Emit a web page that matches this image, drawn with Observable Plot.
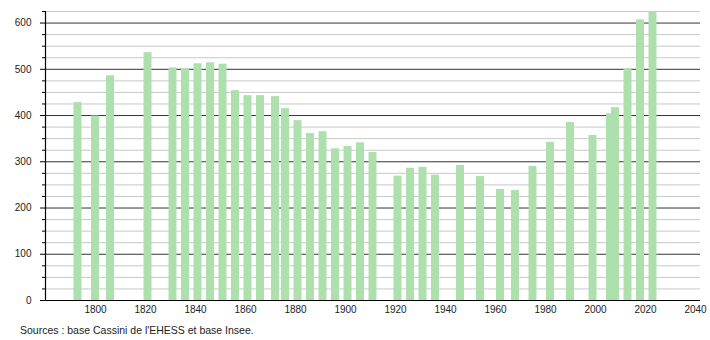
<!DOCTYPE html>
<html>
<head>
<meta charset="utf-8">
<script src="https://cdn.jsdelivr.net/npm/d3@7"></script>
<script src="https://cdn.jsdelivr.net/npm/@observablehq/plot@0.6"></script>
<style>
  body { margin: 0; background: #fff; font-family: "Liberation Sans", Arial, sans-serif; }
  #chart svg { display: block; }
  #caption { font-size: 10.5px; color: #222; margin: 4px 0 0 20px; }
</style>
</head>
<body>
<div id="chart"></div>
<div id="caption">Sources : base Cassini de l'EHESS et base Insee.</div>
<script>
const years = [1793, 1800, 1806, 1821, 1831, 1836, 1841, 1846, 1851, 1856, 1861, 1866, 1872, 1876, 1881, 1886, 1891, 1896, 1901, 1906, 1911, 1921, 1926, 1931, 1936, 1946, 1954, 1962, 1968, 1975, 1982, 1990, 1999, 2006, 2008, 2013, 2018, 2023];
const population = [428, 399, 486, 536, 503, 501, 512, 514, 511, 454, 443, 443, 441, 415, 389, 361, 365, 328, 333, 341, 320, 269, 286, 288, 271, 292, 268, 240, 238, 290, 342, 385, 357, 404, 417, 501, 607, 630];
const xTicks = [1800, 1820, 1840, 1860, 1880, 1900, 1920, 1940, 1960, 1980, 2000, 2020, 2040];
const yMajor = [0, 100, 200, 300, 400, 500, 600];
const yMinor = [25, 50, 75, 125, 150, 175, 225, 250, 275, 325, 350, 375, 425, 450, 475, 525, 550, 575, 625];

const data = years.map((y, i) => ({year: y, pop: population[i]}));

const chart = Plot.plot({
  width: 710,
  height: 320,
  marginTop: 11,
  marginBottom: 20,
  marginLeft: 45,
  marginRight: 10,
  style: {fontFamily: "Liberation Sans, Arial, sans-serif", fontSize: "10px", color: "#222", background: "#fff"},
  x: {domain: [1780, 2042], axis: null, label: null},
  y: {domain: [0, 625], axis: null, label: null},
  marks: [
    Plot.gridY(yMinor, {stroke: "#c8c8c8", strokeOpacity: 1}),
    Plot.gridY(yMajor.filter(d => d > 0), {stroke: "#333", strokeOpacity: 1}),
    Plot.rectY(data, {x1: d => d.year - 1.6, x2: d => d.year + 1.6, y: "pop", fill: "#aee0ae", clip: true}),
    Plot.axisY(yMinor, {tickSize: 3, text: null, stroke: "#000", label: null}),
    Plot.axisY(yMajor, {tickSize: 5, tickPadding: 9, stroke: "#000", fill: "#222", fontSize: 10, label: null}),
    Plot.axisX(xTicks, {tickSize: 0, tickPadding: 5, fill: "#222", fontSize: 10, tickFormat: d => String(d), label: null}),
    Plot.ruleX([1780], {y1: 0, y2: 625, stroke: "#000", strokeWidth: 1.2}),
    Plot.ruleY([0], {stroke: "#000", strokeWidth: 1.2})
  ]
});
document.getElementById("chart").appendChild(chart);
</script>
</body>
</html>
